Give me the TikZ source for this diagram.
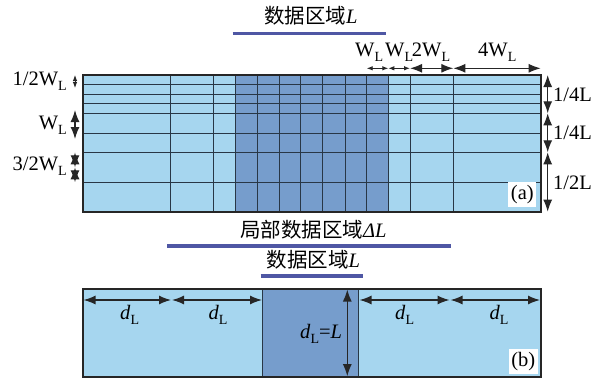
\documentclass[tikz,border=0pt]{standalone}
\usepackage{fontspec}
\setmainfont{Liberation Serif}
\newfontfamily\cjk{Noto Sans CJK SC}
\usetikzlibrary{arrows.meta}
\definecolor{lightb}{RGB}{166,214,239}
\definecolor{darkb}{RGB}{118,157,204}
\definecolor{barc}{RGB}{79,87,164}
\definecolor{gridc}{RGB}{40,55,70}
\newcommand\Lsub{\raisebox{-5pt}{\fontsize{14}{14}\selectfont L}}
\newcommand\dL{\textit{d}\Lsub}
\tikzset{
  gridline/.style={draw=gridc, line width=1pt},
  frame/.style={draw=black!85, line width=1.8pt},
  dimbig/.style={{Latex[length=12pt,width=9pt]}-{Latex[length=12pt,width=9pt]}, line width=1.3pt, draw=black!85},
  dimsmall/.style={{Latex[length=6pt,width=4.5pt]}-{Latex[length=6pt,width=4.5pt]}, line width=0.9pt, draw=black!85},
  bar/.style={draw=barc, line width=3.6pt},
  lbl/.style={inner sep=0pt, anchor=base west},
  lble/.style={inner sep=0pt, anchor=base east},
  head/.style={inner sep=0pt, font=\fontsize{20.5}{22}\selectfont},
  tag/.style={fill=white, inner sep=2.5pt, minimum height=25pt}
}
\begin{document}
\begin{tikzpicture}[x=1pt,y=-1pt, font=\fontsize{20.5}{23}\selectfont]
\fill[white] (0,0) rectangle (607,380);
\useasboundingbox (0,0) rectangle (607,380);
% ---------- title (a)
\node[head] (ta) at (310.8,16) {{\cjk 数据区域}\textit{L}};
\coordinate (ba1) at (232.7,33.3);
\coordinate (ba2) at (385.7,33.3);
\draw[bar] (ba1) -- (ba2);
% ---------- panel (a)
\fill[lightb] (82.7,75) rectangle (540.7,211.7);
\fill[darkb] (235,75) rectangle (388.3,211.7);
\foreach \x in {170,213.3,235,257.3,279.3,300.7,322.7,345,366.7,388.3,410,453.3}
  \draw[gridline] (\x,75) -- (\x,211.7);
\foreach \y in {84.5,94.2,103.8,113.3,133.3,152.3,182.3}
  \draw[gridline] (82.7,\y) -- (540.7,\y);
\draw[frame] (82.7,75) rectangle (540.7,211.7);
% top dimensions
\coordinate (h0) at (366.7,68.3);
\coordinate (h1) at (388.3,68.3);
\coordinate (h2) at (410,68.3);
\coordinate (h3) at (453.3,68.3);
\coordinate (h4) at (540.7,68.3);
\draw[dimsmall] (h0) -- (h1);
\draw[dimsmall] (h1) -- (h2);
\draw[dimbig] (h2) -- (h3);
\draw[dimbig] (h3) -- (h4);
\node[lbl] (w1) at (355,56.3) {W\Lsub};
\node[lbl] (w2) at (385,56.3) {W\Lsub};
\node[lbl] (w3) at (411.7,56.3) {2W\Lsub};
\node[lbl] (w4) at (478,56.3) {4W\Lsub};
% right dimensions
\coordinate (v0) at (547.7,75);
\coordinate (v1) at (547.7,113.3);
\coordinate (v2) at (547.7,152.3);
\coordinate (v3) at (547.7,211.7);
\draw[dimbig] (v0) -- (v1);
\draw[dimbig] (v1) -- (v2);
\draw[dimbig] (v2) -- (v3);
\node[lbl] (r1) at (553,101) {1/4L};
\node[lbl] (r2) at (553,139.5) {1/4L};
\node[lbl] (r3) at (553,189.5) {1/2L};
% left dimensions
\coordinate (l0) at (75,75);
\coordinate (l1) at (75,88);
\coordinate (l2) at (75,110);
\coordinate (l3) at (75,139);
\coordinate (l4) at (75,152.3);
\coordinate (l5) at (75,167.3);
\coordinate (l6) at (75,182.3);
\draw[dimsmall] (l0) -- (l1);
\draw[dimbig] (l2) -- (l3);
\draw[dimbig] (l4) -- (l5);
\draw[dimbig] (l5) -- (l6);
\node[lble] (q1) at (67,85.5) {1/2W\Lsub};
\node[lble] (q2) at (67,129) {W\Lsub};
\node[lble] (q3) at (67,170.5) {3/2W\Lsub};
\node[tag] (tga) at (522.3,194.2) {(a)};
% ---------- titles (b)
\node[head] (tb1) at (313.3,229.7) {{\cjk 局部数据区域}\textit{ΔL}};
\coordinate (bb1) at (167.3,246);
\coordinate (bb2) at (451,246);
\draw[bar] (bb1) -- (bb2);
\node[head] (tb2) at (313.3,260) {{\cjk 数据区域}\textit{L}};
\coordinate (bc1) at (260.7,275.7);
\coordinate (bc2) at (362.7,275.7);
\draw[bar] (bc1) -- (bc2);
% ---------- panel (b)
\fill[lightb] (82.7,289) rectangle (540.7,376.7);
\fill[darkb] (262.7,289) rectangle (358.3,376.7);
\draw[gridline, line width=0.6pt] (262.7,289) -- (262.7,376.7);
\draw[gridline, line width=0.6pt] (358.3,289) -- (358.3,376.7);
\draw[frame] (82.7,289) rectangle (540.7,376.7);
\coordinate (d0) at (83.5,300);
\coordinate (d1) at (171,300);
\coordinate (d2) at (172,300);
\coordinate (d3) at (262,300);
\coordinate (d4) at (359.5,300);
\coordinate (d5) at (449.5,300);
\coordinate (d6) at (450.5,300);
\coordinate (d7) at (540,300);
\draw[dimbig] (d0) -- (d1);
\draw[dimbig] (d2) -- (d3);
\draw[dimbig] (d4) -- (d5);
\draw[dimbig] (d6) -- (d7);
\coordinate (e0) at (347.3,289.5);
\coordinate (e1) at (347.3,376.2);
\draw[dimbig] (e0) -- (e1);
\node[lbl] (dl1) at (120,319.3) {\dL};
\node[lbl] (dl2) at (208.3,319.3) {\dL};
\node[lbl] (dl3) at (395,319.3) {\dL};
\node[lbl] (dl4) at (489.3,319.3) {\dL};
\node[lbl] (dl5) at (300,338.3) {\dL=\textit{L}};
\node[tag] (tgb) at (523.3,361.2) {(b)};
\end{tikzpicture}
\end{document}
